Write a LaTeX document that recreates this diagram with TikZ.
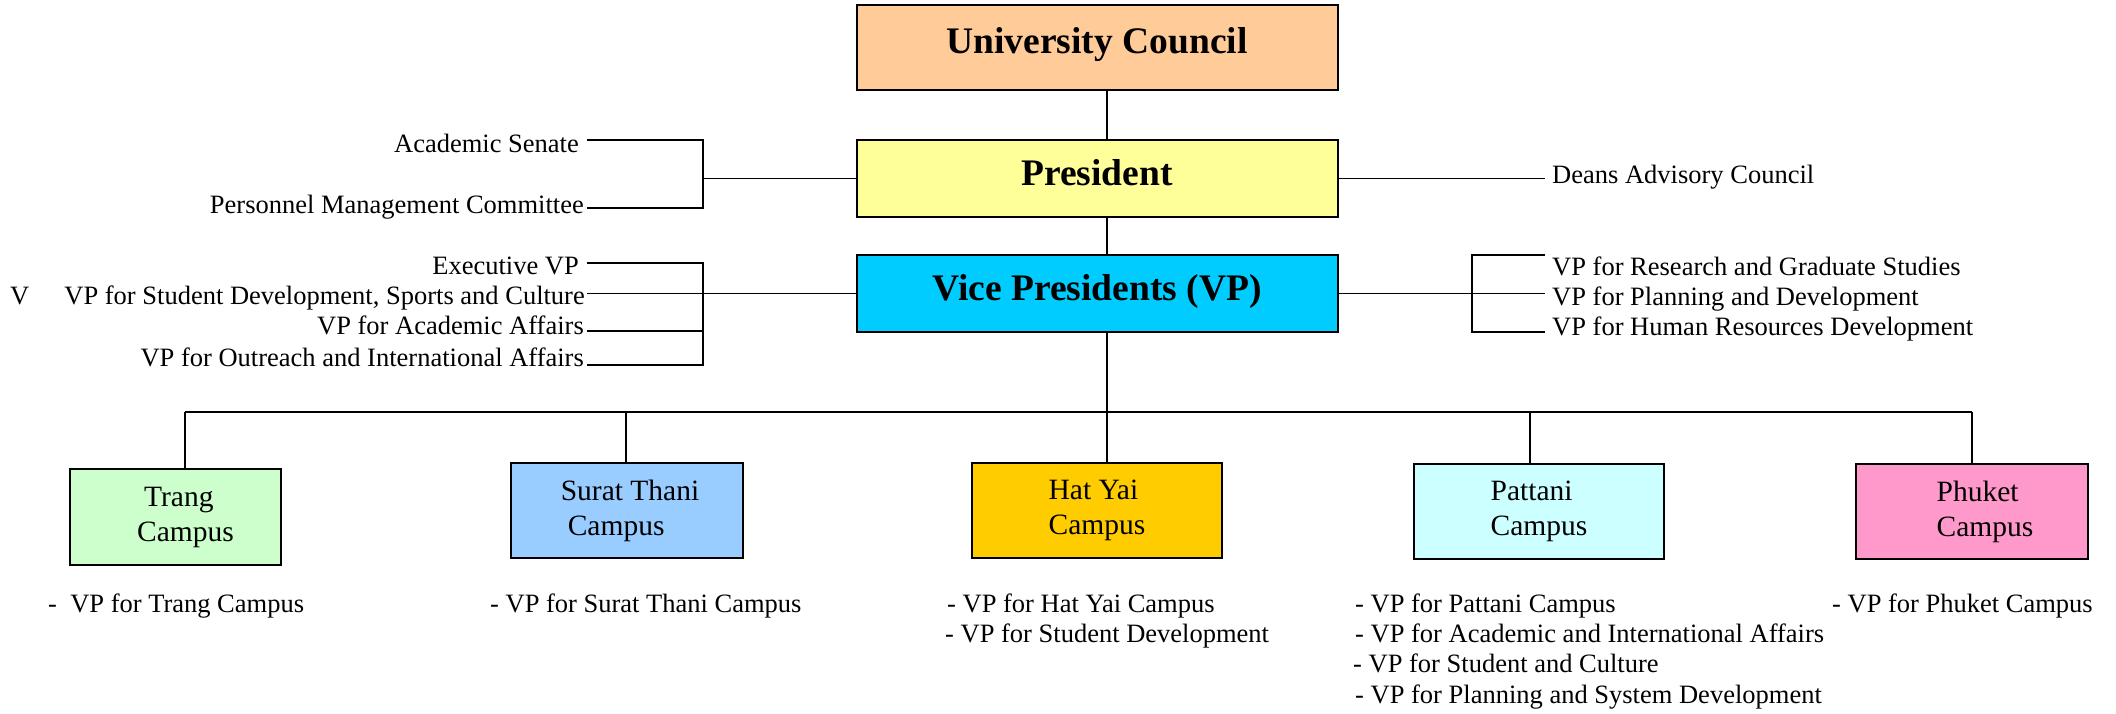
\documentclass[tikz,border=0pt]{standalone}
\usepackage{fontspec}
\setmainfont{Liberation Serif}
\definecolor{ucC}{HTML}{FFCC99}
\definecolor{presC}{HTML}{FFFF99}
\definecolor{vpC}{HTML}{00CCFF}
\definecolor{trangC}{HTML}{CCFFCC}
\definecolor{suratC}{HTML}{99CCFF}
\definecolor{hatyaiC}{HTML}{FFCC00}
\definecolor{pattaniC}{HTML}{CCFFFF}
\definecolor{phuketC}{HTML}{FF99CC}
\begin{document}
\begin{tikzpicture}[x=1pt,y=-1pt,
  conn/.style={line width=1.8pt},
  head/.style={draw, line width=2pt, minimum width=481pt, minimum height=77pt, inner sep=0pt,
    font=\fontsize{37.5}{45}\selectfont\bfseries, text height=26pt, text depth=13pt},
  campus/.style={draw, line width=2pt, inner sep=0pt, align=left,
    font=\fontsize{29.5}{35}\selectfont},
  lbl/.style={inner sep=0pt, font=\fontsize{26.5}{30}\selectfont}]
\fill[white] (0,0) rectangle (2116,713);
\useasboundingbox (0,0) rectangle (2116,713);

% main boxes
\node[head, fill=ucC, minimum height=85pt] (uc) at (1097,47) {University Council};
\node[head, fill=presC] (pres) at (1097,178.5) {President};
\node[head, fill=vpC] (vp) at (1097,293.5) {Vice Presidents (VP)};

% campus boxes
\node[campus, fill=trangC, minimum width=211pt, minimum height=96pt] (trang) at (175.5,517) {\hspace*{20pt}\hspace*{7pt}Trang\\\hspace*{20pt}Campus};
\node[campus, fill=suratC, minimum width=232pt, minimum height=95pt] (surat) at (627,510.5) {\hspace*{6pt}Surat Thani\\\hspace*{6pt}\hspace*{7pt}Campus};
\node[campus, fill=hatyaiC, minimum width=250pt, minimum height=95pt] (hatyai) at (1097,510.5) {Hat Yai\\Campus};
\node[campus, fill=pattaniC, minimum width=250pt, minimum height=95pt] (pattani) at (1539,511.5) {Pattani\\Campus};
\node[campus, fill=phuketC, minimum width=232pt, minimum height=95pt] (phuket) at (1972,511.5) {\hspace*{26pt}Phuket\\\hspace*{26pt}Campus};

% left labels
\node[lbl, anchor=base east] (as) at (579,152) {Academic Senate};
\node[lbl, anchor=base east] (pm) at (584,213) {Personnel Management Committee};
\node[lbl, anchor=base east] (evp) at (579,274) {Executive VP};
\node[lbl, anchor=base east] (vsd) at (585,304) {VP for Student Development, Sports and Culture};
\node[lbl, anchor=base east] (vaa) at (584,334) {VP for Academic Affairs};
\node[lbl, anchor=base east] (voi) at (584,366) {VP for Outreach and International Affairs};
\node[lbl, anchor=base west] (vv) at (10,304) {V};

% right labels
\node[lbl, anchor=base west] (dac) at (1552,183) {Deans Advisory Council};
\node[lbl, anchor=base west] (vrg) at (1552,275) {VP for Research and Graduate Studies};
\node[lbl, anchor=base west] (vpd) at (1552,305) {VP for Planning and Development};
\node[lbl, anchor=base west] (vhr) at (1552,335) {VP for Human Resources Development};

% bottom labels
\node[lbl, anchor=base west] (t1) at (48,612) {-~~VP for Trang Campus};
\node[lbl, anchor=base west] (s1) at (490,612) {- VP for Surat Thani Campus};
\node[lbl, anchor=base west] (h1) at (947,612) {- VP for Hat Yai Campus};
\node[lbl, anchor=base west] (h2) at (945,642) {- VP for Student Development};
\node[lbl, anchor=base west] (p1) at (1355,612) {- VP for Pattani Campus};
\node[lbl, anchor=base west] (p2) at (1355,642) {- VP for Academic and International Affairs};
\node[lbl, anchor=base west] (p3) at (1353,672) {- VP for Student and Culture};
\node[lbl, anchor=base west] (p4) at (1355,703) {- VP for Planning and System Development};
\node[lbl, anchor=base west] (k1) at (1832,612) {- VP for Phuket Campus};

% spine
\coordinate (spine) at (1107,0);
\draw[conn] (uc.south -| spine) -- (pres.north -| spine);
\draw[conn] (pres.south -| spine) -- (vp.north -| spine);
\draw[conn] (vp.south -| spine) -- (hatyai.north -| spine);

% bus to campuses
\coordinate (busL) at (185,412);
\coordinate (busR) at (1972,412);
\coordinate (busS) at (626,412);
\coordinate (busP) at (1530,412);
\draw[conn] (busL) -- (busR);
\draw[conn] (busL) -- (trang.north -| busL);
\draw[conn] (busS) -- (surat.north -| busS);
\draw[conn] (busP) -- (pattani.north -| busP);
\draw[conn] (busR) -- (phuket.north -| busR);

% left brackets
\draw[conn] (587,140) -| (703,208) -- (587,208);
\draw[conn] (703,178.5) -- (pres.west);
\draw[conn] (587,263) -| (703,365) -- (587,365);
\draw[conn] (587,293.5) -- (vp.west);
\draw[conn] (587,331) -- (703,331);

% right connectors
\draw[conn] (pres.east) -- (1545,178.5);
\draw[conn] (vp.east) -- (1545,293.5);
\draw[conn] (1545,255) -| (1472,332) -- (1545,332);
\end{tikzpicture}
\end{document}
